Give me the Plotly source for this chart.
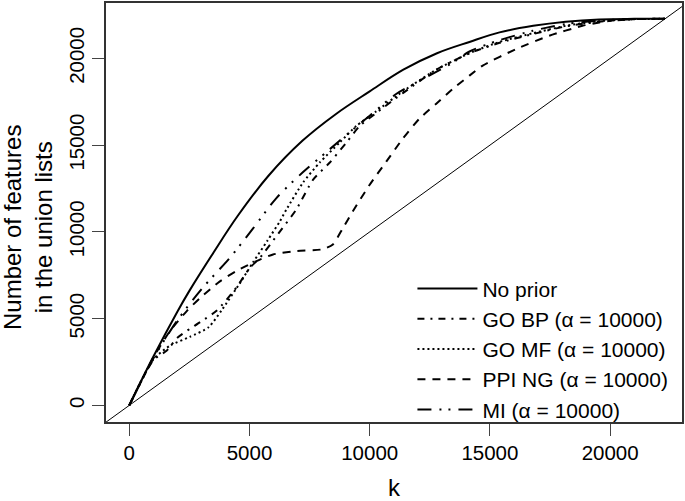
import plotly.graph_objects as go

# ---- data ----
N_FEATURES = 22283

k_noprior = [0, 1000, 2000, 2500, 3500, 4500, 5800, 7200, 8600, 10000, 11400, 12800, 14150, 15400, 16800, 18150, 19550, 21000, 22283]
y_noprior = [0, 2800, 5400, 6600, 8800, 10900, 13250, 15250, 16800, 18100, 19350, 20300, 20950, 21500, 21880, 22120, 22250, 22280, 22283]

k_gobp = [0, 1000, 1550, 2000, 2950, 3630, 4460, 5000, 5430, 6200, 6950, 7640, 8340, 9030, 9580, 10270, 11380, 12770, 14150, 15400, 16780, 18160, 19550, 21000, 22283]
y_gobp = [0, 2600, 3150, 3900, 4800, 5450, 6800, 7900, 8500, 9900, 11300, 13000, 14000, 15150, 16100, 16850, 18000, 19350, 20300, 20900, 21400, 21850, 22120, 22260, 22283]

k_gomf = [0, 1000, 1700, 2520, 3300, 3850, 4650, 5150, 5750, 6260, 6540, 7230, 7920, 8750, 9440, 10270, 11380, 12770, 14150, 15400, 16780, 18160, 19550, 21000, 22283]
y_gomf = [0, 2650, 3450, 3950, 4500, 5500, 7150, 8250, 9500, 10600, 11300, 12850, 14000, 15150, 16100, 16950, 18100, 19350, 20300, 20950, 21450, 21880, 22150, 22260, 22283]

k_ppi = [0, 1000, 1700, 2400, 2950, 3770, 4460, 5290, 5980, 6950, 8050, 8470, 8890, 9300, 10000, 10690, 11380, 12070, 12770, 13460, 14150, 14700, 16090, 17470, 18850, 19550, 20240, 21000, 22283]
y_ppi = [0, 2750, 4300, 5450, 6200, 7150, 7750, 8320, 8700, 8900, 9000, 9280, 10230, 11190, 12720, 14050, 15380, 16530, 17390, 18250, 19010, 19590, 20540, 21310, 21880, 22070, 22220, 22270, 22283]

k_mi = [0, 1000, 2000, 3070, 4180, 5150, 6120, 7230, 8200, 9170, 10000, 11100, 12200, 13450, 14150, 15400, 16800, 18150, 19550, 21000, 22283]
y_mi = [0, 2700, 4900, 6800, 8500, 10200, 11950, 13450, 14600, 15750, 16700, 17950, 18800, 19750, 20400, 21050, 21600, 21980, 22180, 22270, 22283]

series_names = ["No prior", "GO BP (α = 10000)", "GO MF (α = 10000)", "PPI NG (α = 10000)", "MI (α = 10000)"]
x_ticks = [0, 5000, 10000, 15000, 20000]
y_ticks = [0, 5000, 10000, 15000, 20000]

# identity reference line y = k (extends across the whole panel)
diag_k = [-2000, 25000]

FONT = "Liberation Sans, Arial, Helvetica, sans-serif"

fig = go.Figure()
fig.add_trace(go.Scatter(x=diag_k, y=diag_k, mode="lines", line=dict(color="black", width=1),
                         showlegend=False, hoverinfo="skip"))

dashes = ["solid", "7px,6px,2px,6px", "2px,3px", "8px,7px", "14px,8px,2px,7px,2px,8px"]
smooth = [1.0, 0.6, 0.6, 0.6, 0.8]
data = [(k_noprior, y_noprior), (k_gobp, y_gobp), (k_gomf, y_gomf), (k_ppi, y_ppi), (k_mi, y_mi)]
for (kx, ky), name, dash, sm in zip(data, series_names, dashes, smooth):
    fig.add_trace(go.Scatter(x=kx, y=ky, mode="lines", name=name,
                             line=dict(color="black", width=2, dash=dash,
                                       shape="spline", smoothing=sm)))

axis_common = dict(
    showgrid=False, zeroline=False, showline=True, mirror=True,
    linecolor="#333333", linewidth=1.5,
    ticks="outside", ticklen=12, tickwidth=1.2, tickcolor="#444444",
    tickfont=dict(family=FONT, size=20.5, color="black"),
)

fig.update_layout(
    width=685, height=501,
    margin=dict(l=106, r=2, t=1, b=79),
    paper_bgcolor="white", plot_bgcolor="white",
    font=dict(family=FONT, color="black"),
    xaxis=dict(range=[-967, 22989], tickvals=x_ticks, ticktext=[str(v) for v in x_ticks], **axis_common),
    yaxis=dict(range=[-958, 23195], tickvals=y_ticks, ticktext=[str(v) for v in y_ticks],
               tickangle=-90, **axis_common),
    legend=dict(x=0.532, y=0.367, xanchor="left", yanchor="top", bgcolor="rgba(0,0,0,0)",
                font=dict(family=FONT, size=21, color="black"), tracegroupgap=0,
                itemwidth=60),
    annotations=[
        dict(text="k", xref="paper", yref="paper", x=0.5, y=0, yshift=-65,
             xanchor="center", yanchor="middle", showarrow=False,
             font=dict(family=FONT, size=24, color="black")),
        dict(text="Number of features<br>in the union lists", xref="paper", yref="paper",
             x=0, xshift=-78, y=0.463, xanchor="center", yanchor="middle", textangle=-90,
             showarrow=False, font=dict(family=FONT, size=24, color="black")),
    ],
)

fig.write_html("out.html", config={"displayModeBar": False},
               post_script="document.body.style.margin='0';")
